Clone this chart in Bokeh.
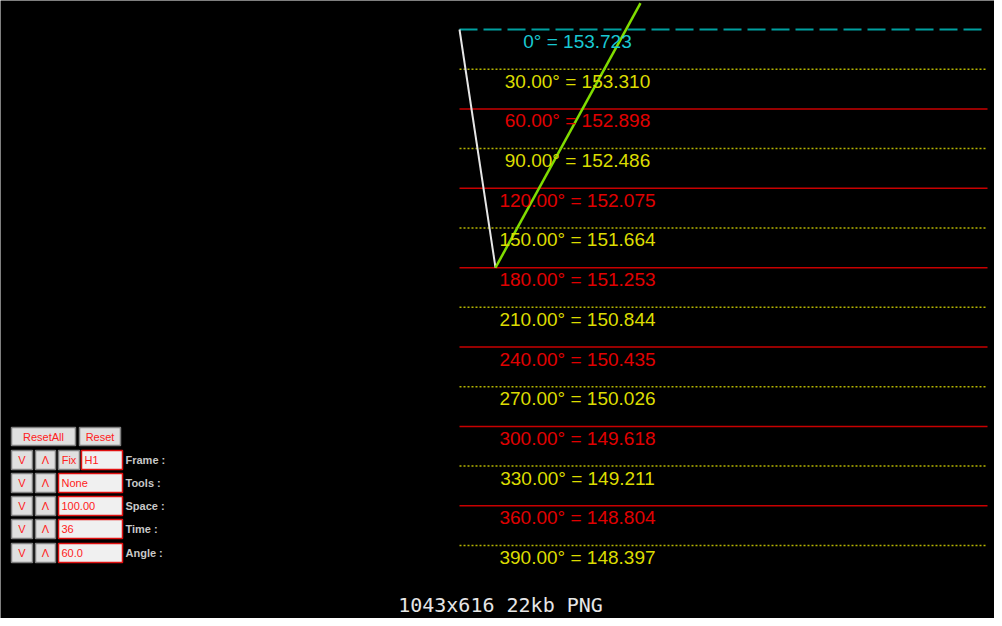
from bokeh.plotting import figure
from bokeh.models import Range1d, ColumnDataSource
from bokeh.core.properties import value
from bokeh.embed import file_html
from bokeh.resources import INLINE

# ---- data ----
angles = [0, 30, 60, 90, 120, 150, 180, 210, 240, 270, 300, 330, 360, 390]
readings = [153.723, 153.310, 152.898, 152.486, 152.075, 151.664, 151.253,
            150.844, 150.435, 150.026, 149.618, 149.211, 148.804, 148.397]
white_x = [467, 503]
white_angle = [0, 180]
green_x = [503, 648]
green_angle = [180, -20]
caption = "1043x616 22kb PNG"
ui_rows = ["Frame :", "Tools :", "Space :", "Time :", "Angle :"]
ui_fields = ["H1", "None", "100.00", "36", "60.0"]

# ---- geometry (pixels) ----
W, H = 994, 618
px_top, px_per_deg = 37, 516 / 390
y_bottom = (626 - px_top) / px_per_deg
y_top = (8 - px_top) / px_per_deg

p = figure(width=W, height=H, output_backend="svg", toolbar_location=None,
           x_range=Range1d(8, 1002), y_range=Range1d(y_bottom, y_top),
           background_fill_color="black", border_fill_color="black",
           min_border=0, outline_line_color=None)
p.axis.visible = False
p.grid.visible = False
p.extra_y_ranges = {"px": Range1d(626, 8)}

def fmt(a, v):
    return f"0\u00b0 = {v:.3f}" if a == 0 else f"{a:.2f}\u00b0 = {v:.3f}"

cols, kinds = [], []
for a in angles:
    if a == 0:
        cols.append("#19c8d2"); kinds.append("c")
    elif a % 60 == 0:
        cols.append("#e00000"); kinds.append("r")
    else:
        cols.append("#dcdc00"); kinds.append("y")

src = ColumnDataSource(dict(a=angles, v=readings, t=[fmt(a, v) for a, v in zip(angles, readings)],
                            c=cols, k=kinds, x0=[467] * len(angles), x1=[995] * len(angles),
                            xl=[585] * len(angles)))

def sub(kind):
    idx = [i for i, k in enumerate(kinds) if k == kind]
    return ColumnDataSource({k: [v[i] for i in idx] for k, v in src.data.items()})

p.segment(x0="x0", x1="x1", y0="a", y1="a", source=sub("c"), line_color="#00a0a0",
          line_width=2, line_dash="18 6")
p.segment(x0="x0", x1="x1", y0="a", y1="a", source=sub("y"), line_color="#b4b400",
          line_width=1.5, line_dash="2 2")
p.segment(x0="x0", x1="x1", y0="a", y1="a", source=sub("r"), line_color="#c80000",
          line_width=1.5)

p.line(white_x, white_angle, line_color="#e6e6e6", line_width=2)
p.line(green_x, green_angle, line_color="#80dc00", line_width=2.5)

p.text(x="xl", y="a", text="t", text_color="c", source=src, text_align="center",
       text_baseline="middle", y_offset=12, text_font=value("Liberation Sans"),
       text_font_size="19px")

# ---- control panel ----
def button(x0, x1, y0, y1, label, border="#808080", fill="#e0e0e0"):
    p.quad(left=x0, right=x1, top=y0, bottom=y1, y_range_name="px",
           fill_color=fill, line_color=border, line_width=1.5)
    p.text(x=[(x0 + x1) / 2], y=[(y0 + y1) / 2], text=[label], y_range_name="px",
           text_align="center", text_baseline="middle", text_color="#ff2020",
           text_font=value("Liberation Sans"), text_font_size="11px")

button(19, 83, 435, 453, "ResetAll")
button(87, 128, 435, 453, "Reset")
row_y = [458, 481, 504, 527, 551]
for i, (lab, fld) in enumerate(zip(ui_rows, ui_fields)):
    y0 = row_y[i]
    y1 = y0 + 19
    button(19, 40, y0, y1, "V")
    button(43, 63, y0, y1, "\u039b")
    if i == 0:
        button(66, 87, y0, y1, "Fix")
        fx0 = 89
    else:
        fx0 = 66
    p.quad(left=fx0, right=130, top=y0, bottom=y1, y_range_name="px",
           fill_color="#f0f0f0", line_color="#e01010", line_width=1.5)
    p.text(x=[fx0 + 3], y=[(y0 + y1) / 2], text=[fld], y_range_name="px",
           text_align="left", text_baseline="middle", text_color="#ff2020",
           text_font=value("Liberation Sans"), text_font_size="11px")
    p.text(x=[133], y=[(y0 + y1) / 2], text=[lab], y_range_name="px",
           text_align="left", text_baseline="middle", text_color="#c8c8c8",
           text_font=value("Liberation Sans"), text_font_size="11px", text_font_style="bold")

p.text(x=[508], y=[612], text=[caption], y_range_name="px", text_align="center",
       text_baseline="middle", text_color="#e6e6e6", text_font=value("DejaVu Sans Mono"),
       text_font_size="20px")

open("out.html", "w").write(file_html(p, INLINE))
